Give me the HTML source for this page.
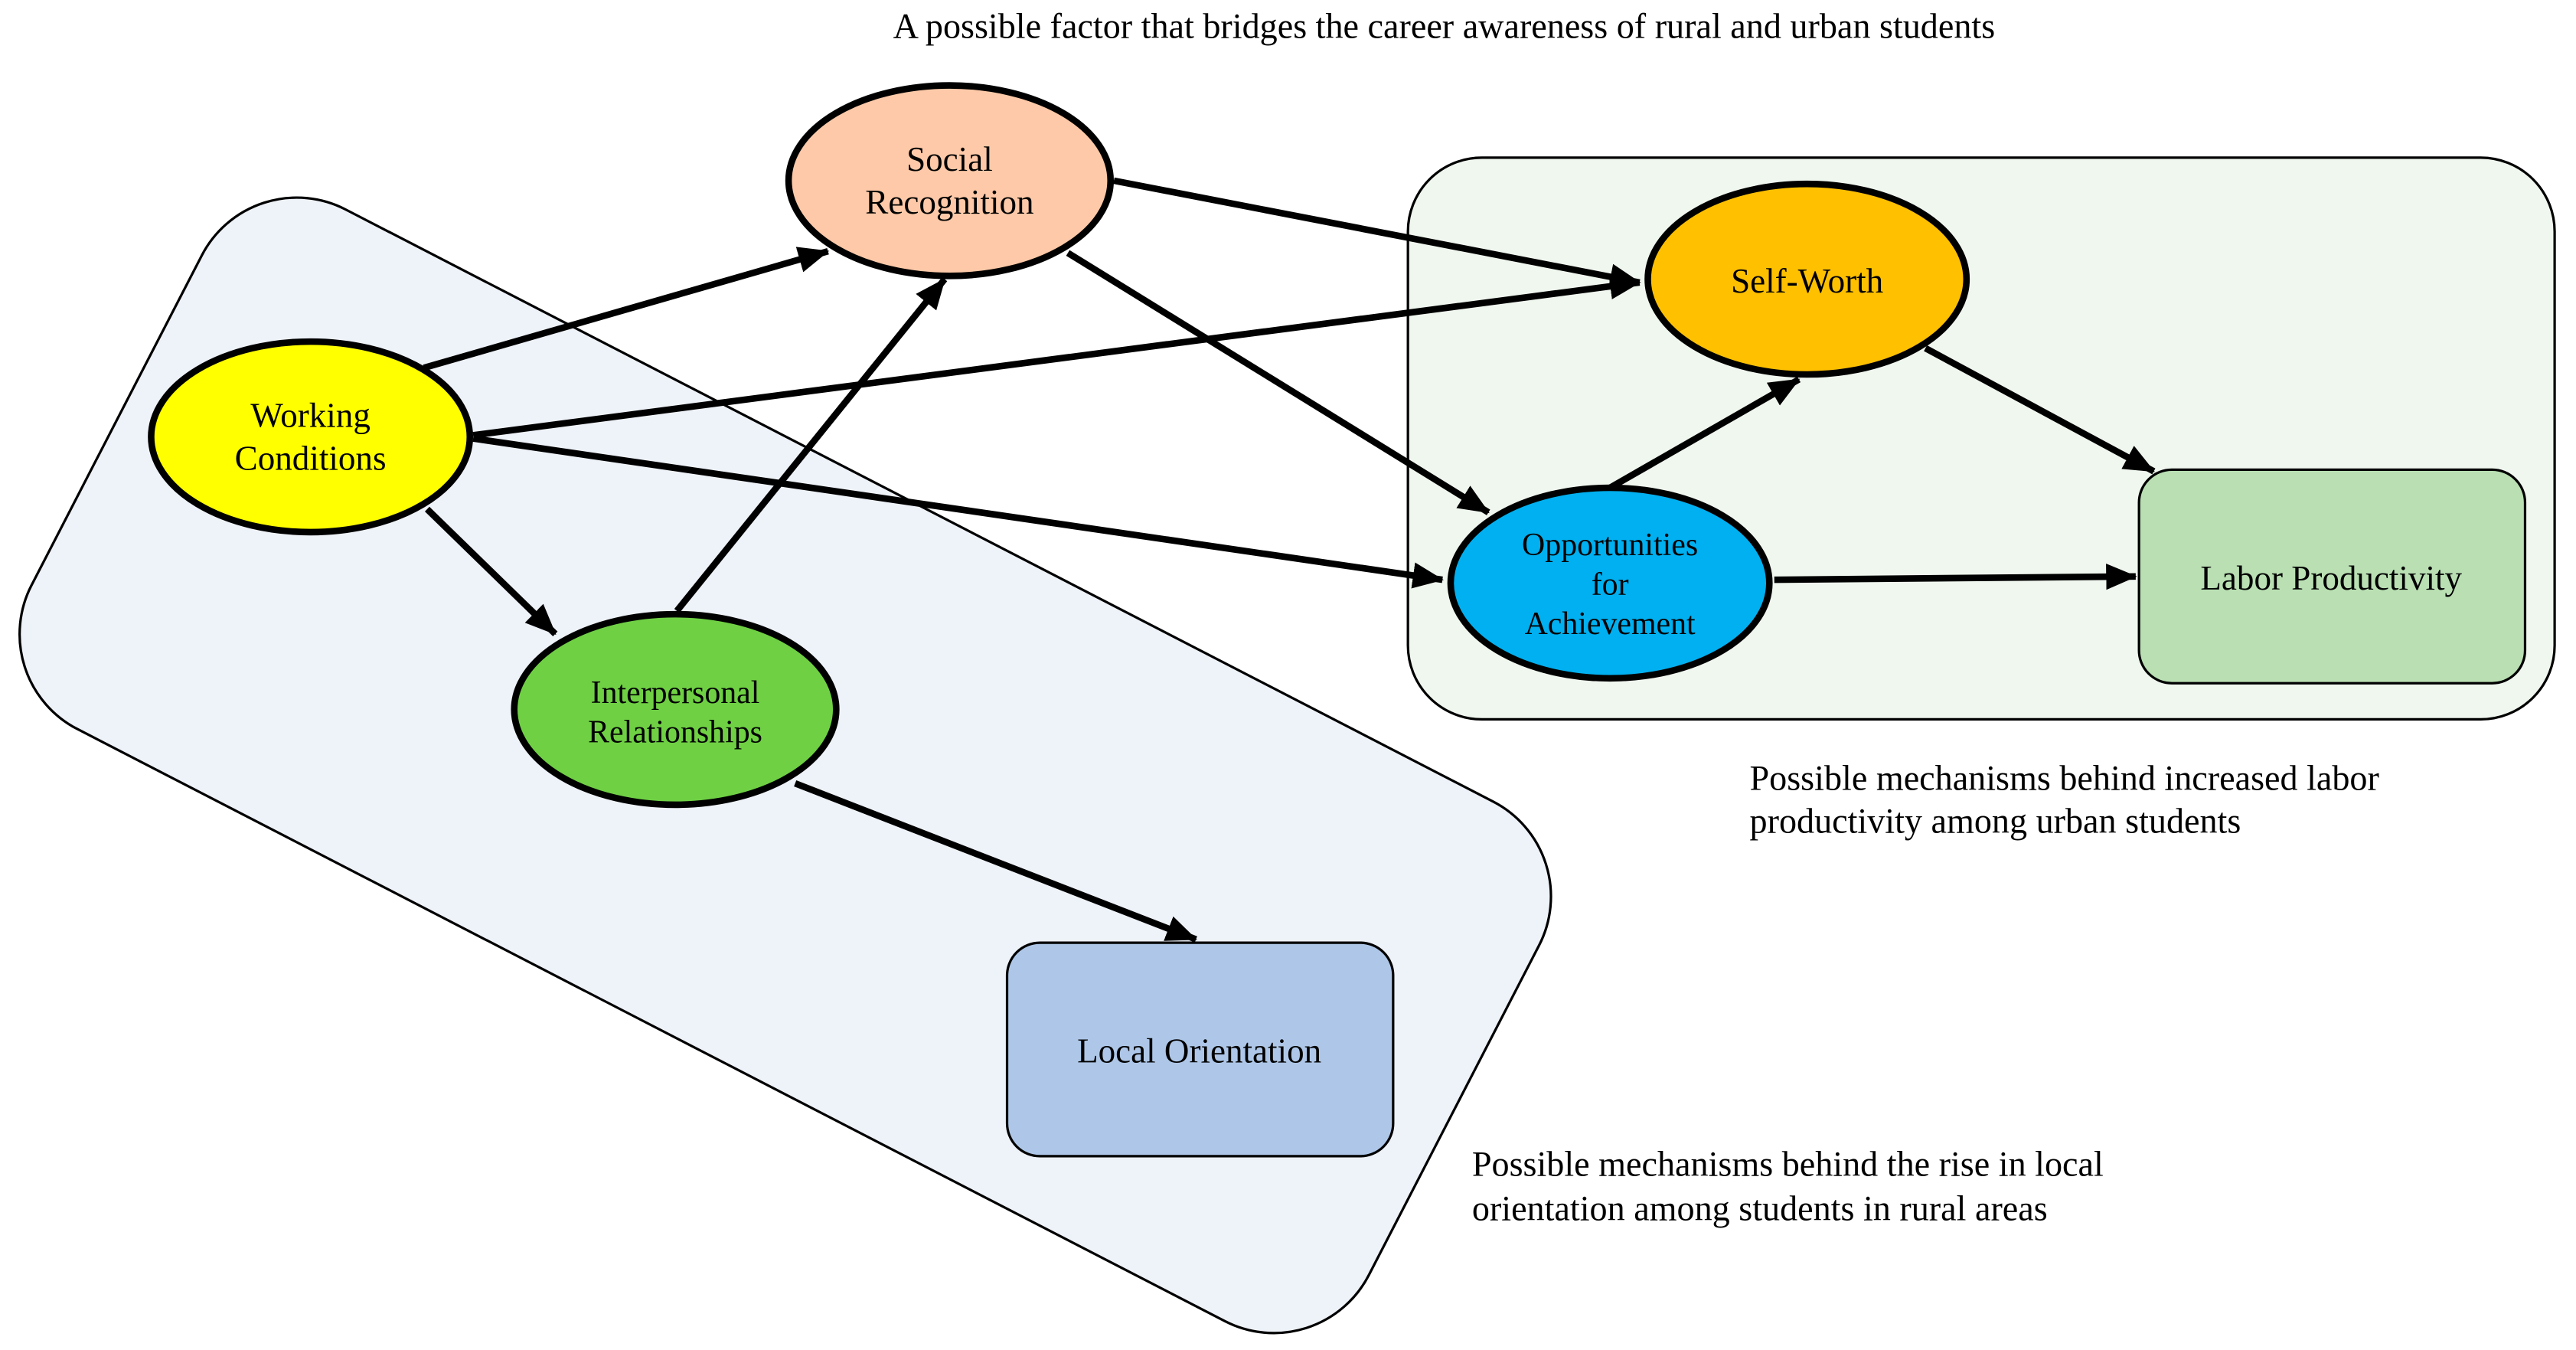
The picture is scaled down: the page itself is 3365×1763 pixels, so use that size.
<!DOCTYPE html>
<html><head><meta charset="utf-8"><style>
html,body{margin:0;padding:0;background:#fff;width:3365px;height:1763px;overflow:hidden}
svg{display:block}
text{font-family:"Liberation Serif","Times New Roman",serif;fill:#000}
</style></head><body>
<svg width="3365" height="1763" viewBox="0 0 1568 822" preserveAspectRatio="none">
<defs><marker id="a" markerWidth="5" markerHeight="5" refX="4.5" refY="2.5" orient="auto" markerUnits="strokeWidth"><path d="M0,0.5 L4.7,2.5 L0,4.5 Z" fill="#000"/></marker></defs>
<text x="879" y="23" font-size="21.5" text-anchor="middle">A possible factor that bridges the career awareness of rural and urban students</text>
<rect x="-458" y="-178" width="916" height="356" rx="65" transform="translate(478,466) rotate(27.3)" fill="#eef2f9" stroke="#000" stroke-width="1.5"/>
<rect x="857" y="96" width="698" height="342" rx="45" fill="#f0f7ef" stroke="#000" stroke-width="1.5"/>
<rect x="1302" y="286" width="235" height="130" rx="20" fill="#b9dfb3" stroke="#000" stroke-width="1.5"/>
<rect x="613" y="574" width="235" height="130" rx="20" fill="#aec7e8" stroke="#000" stroke-width="1.5"/>
<g stroke="#000" stroke-width="4" fill="none" marker-end="url(#a)">
<line x1="258" y1="224" x2="504" y2="153"/>
<line x1="288" y1="265" x2="998" y2="172"/>
<line x1="288" y1="267" x2="878" y2="353"/>
<line x1="260" y1="310" x2="338" y2="386"/>
<line x1="412" y1="372" x2="575" y2="170"/>
<line x1="678" y1="110" x2="998" y2="172"/>
<line x1="650" y1="154" x2="906" y2="312"/>
<line x1="980" y1="297" x2="1095" y2="231"/>
<line x1="1172" y1="212" x2="1311" y2="287"/>
<line x1="1080" y1="353" x2="1300" y2="351"/>
<line x1="484" y1="477" x2="728" y2="572"/>
</g>
<g stroke="#000" stroke-width="4">
<ellipse cx="578" cy="110" rx="98" ry="58" fill="#fdc9a8"/>
<ellipse cx="1100" cy="170" rx="97" ry="58" fill="#ffc000"/>
<ellipse cx="189" cy="266" rx="97" ry="58" fill="#ffff00"/>
<ellipse cx="980" cy="355" rx="97" ry="58" fill="#00b0f0"/>
<ellipse cx="411" cy="432" rx="98" ry="58" fill="#6fd044"/>
</g>
<g font-size="21" text-anchor="middle">
<text x="578" y="104">Social</text><text x="578" y="130">Recognition</text>
<text x="1100" y="178">Self-Worth</text>
<text x="189" y="260">Working</text><text x="189" y="286">Conditions</text>
<text x="980" y="338" font-size="19.5">Opportunities</text><text x="980" y="362" font-size="19.5">for</text><text x="980" y="386" font-size="19.5">Achievement</text>
<text x="411" y="428" font-size="19.5">Interpersonal</text><text x="411" y="452" font-size="19.5">Relationships</text>
<text x="1419" y="359">Labor Productivity</text>
<text x="730" y="647">Local Orientation</text>
</g>
<g font-size="21.5">
<text x="1065" y="481">Possible mechanisms behind increased labor</text>
<text x="1065" y="507">productivity among urban students</text>
<text x="896" y="716">Possible mechanisms behind the rise in local</text>
<text x="896" y="743">orientation among students in rural areas</text>
</g>
</svg>
</body></html>
